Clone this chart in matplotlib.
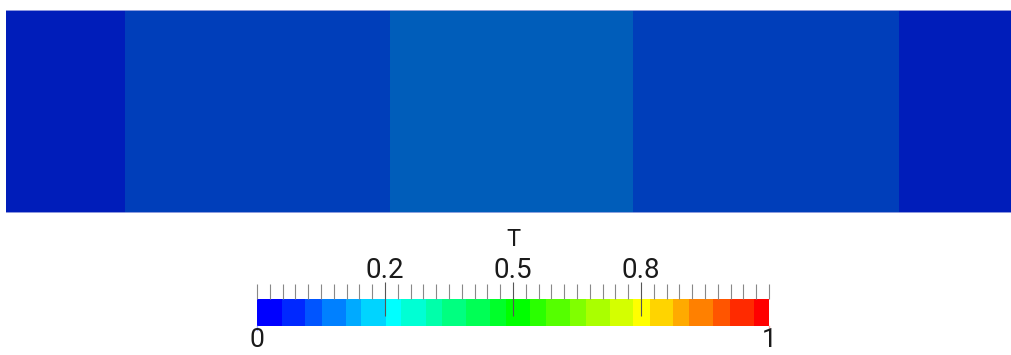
import numpy as np
import matplotlib
import matplotlib.pyplot as plt
from matplotlib.colors import ListedColormap, BoundaryNorm

plt.rcParams['font.family'] = ['Roboto', 'DejaVu Sans']

# colour table of the bar (discrete blocks, value edges)
edges = [0, 0.048, 0.094, 0.126, 0.173, 0.203, 0.2515, 0.282, 0.330, 0.361,
         0.408, 0.455, 0.486, 0.533, 0.564, 0.611, 0.642, 0.689, 0.735,
         0.767, 0.812, 0.844, 0.891, 0.923, 0.970, 1.0]
block_colors = ['#0000ff', '#0028ff', '#0055ff', '#0080ff', '#00aaff', '#00d4ff',
                '#00ffff', '#00ffd4', '#00ffaa', '#00ff80', '#00ff55', '#00ff2a',
                '#00ff00', '#2aff00', '#55ff00', '#80ff00', '#aaff00', '#d4ff00',
                '#ffff00', '#ffd400', '#ffaa00', '#ff8000', '#ff5500', '#ff2a00',
                '#ff0000']

# field: five vertical bands of T
band_x = [0, 119, 384, 627, 893, 1005]
band_T = [0.07, 0.11, 0.15, 0.11, 0.07]

tick_pos = [0.25, 0.5, 0.75]
tick_labels = ['0.2', '0.5', '0.8']

cmap = ListedColormap(block_colors)
norm = BoundaryNorm(edges, cmap.N)
# surface in the render view is shaded darker than the legend
shade = 0.73
cmap_lit = ListedColormap([tuple(c * shade for c in matplotlib.colors.to_rgb(b))
                           for b in block_colors])

W, H = 1011, 355
fig = plt.figure(figsize=(W / 100, H / 100), dpi=100)

ax = fig.add_axes([6 / W, (H - 213) / H, 1 - 6 / W, 203 / H])
ax.pcolormesh(band_x, [0, 1], np.array([band_T]), cmap=cmap_lit, norm=norm)
ax.set_xlim(band_x[0], band_x[-1])
ax.set_ylim(0, 1)
ax.axhline(1, color='#aab0e6', lw=1.2)
ax.axhline(0, color='#aab0e6', lw=1.2)
ax.axis('off')

# colour legend
cax = fig.add_axes([257 / W, (H - 326) / H, 512 / W, 27 / H])
cax.pcolormesh(edges, [0, 1], np.array([np.arange(len(block_colors))]),
               cmap=cmap, vmin=-0.5, vmax=len(block_colors) - 0.5)
cax.set_xlim(0, 1)
cax.set_ylim(0, 1)
for s in cax.spines.values():
    s.set_visible(False)
cax.set_yticks([])
cax.xaxis.set_ticks_position('top')
cax.set_xticks(tick_pos)
cax.set_xticklabels(tick_labels, fontsize=20, color='#1a1a1a')
cax.set_xticks(np.arange(0, 1.0001, 0.025), minor=True)
cax.tick_params(axis='x', which='major', direction='inout', length=25,
                width=0.8, color='#555555', pad=-2)
cax.tick_params(axis='x', which='minor', direction='out', length=11,
                width=0.8, color='#888888')

cax.plot([0, 0], [0, -0.15], color='#a8b0ff', lw=1, clip_on=False)
cax.plot([1, 1], [0, -0.15], color='#ffa8a8', lw=1, clip_on=False)
cax.text(0, -0.08, '0', ha='center', va='top', fontsize=19, color='#1a1a1a')
cax.text(1, -0.08, '1', ha='center', va='top', fontsize=19, color='#1a1a1a')
fig.text(513 / W, (H - 240) / H, 'T', ha='center', va='center', fontsize=17,
         color='#1a1a1a')

fig.savefig('out.png', dpi=100, facecolor='white')
